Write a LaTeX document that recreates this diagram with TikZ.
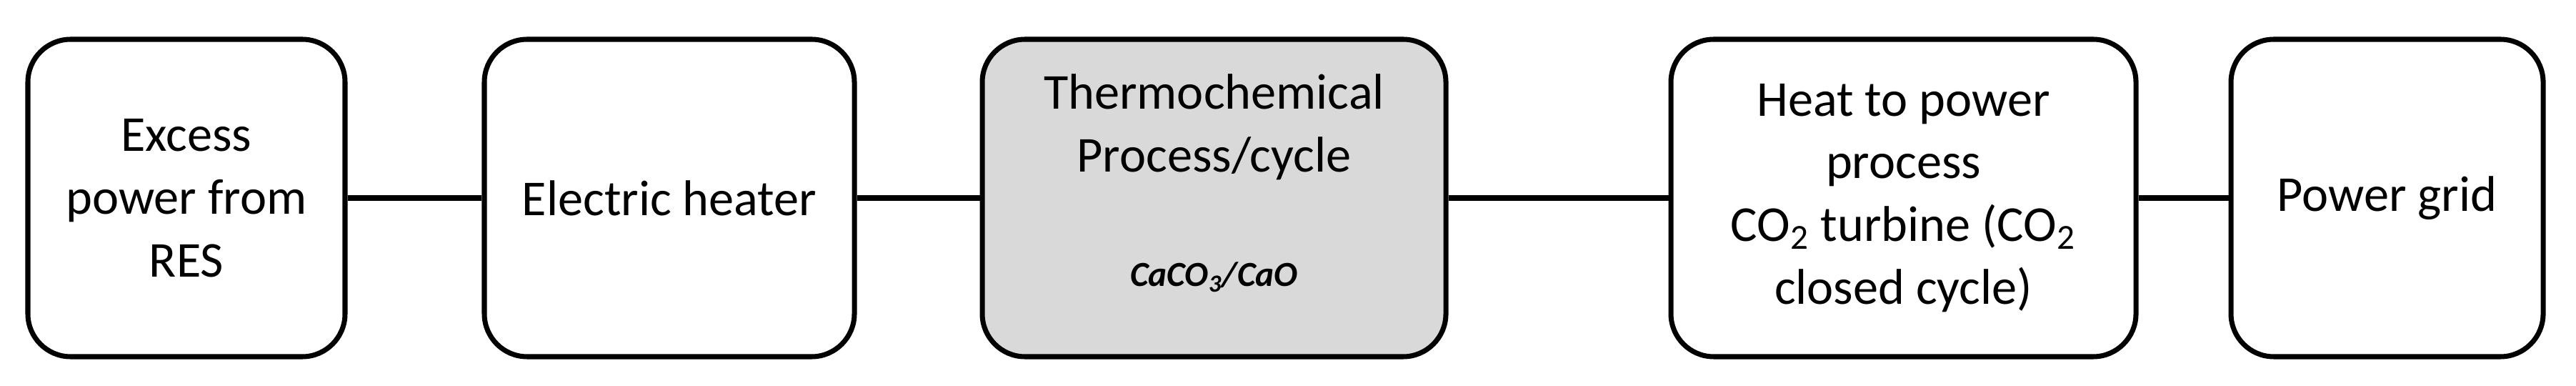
\documentclass[tikz,border=0pt]{standalone}
\usepackage{fontspec}
\setmainfont{Carlito}
\usetikzlibrary{positioning}

\tikzset{
  stage/.style={draw=black, line width=2pt, rounded corners=0.6cm, fill=white,
    minimum height=4.44cm, align=center, font=\fontsize{20}{25}\selectfont},
  link/.style={line width=2pt}
}

\begin{document}
\begin{tikzpicture}
    \useasboundingbox (0,0) rectangle (36.06,5.40);

    % stages
    \node[stage, minimum width=4.44cm] (res) at (2.61,2.63) {Excess\\power from\\RES};
    \node[stage, minimum width=5.18cm] (heater) at (9.37,2.63) {Electric heater};
    \node[stage, minimum width=6.49cm, fill=black!15] (tcs) at (16.995,2.63) {};
    \node[align=center, font=\fontsize{20}{25}\selectfont] (tcstext) at (16.995,3.62) {Thermochemical\\Process/cycle};
    \node[font=\fontsize{14}{16}\selectfont\bfseries\itshape] (tcsmat) at (16.995,1.52) {CaCO\textsubscript{3}/CaO};
    \node[stage, minimum width=6.51cm] (htp) at (26.645,2.63)
      {Heat to power\\process\\CO\textsubscript{2} turbine (CO\textsubscript{2}\\closed cycle)};
    \node[stage, minimum width=4.37cm] (grid) at (33.415,2.63) {Power grid};

    % links
    \draw[link] (res) -- (heater);
    \draw[link] (heater) -- (tcs);
    \draw[link] (tcs) -- (htp);
    \draw[link] (htp) -- (grid);
\end{tikzpicture}
\end{document}
